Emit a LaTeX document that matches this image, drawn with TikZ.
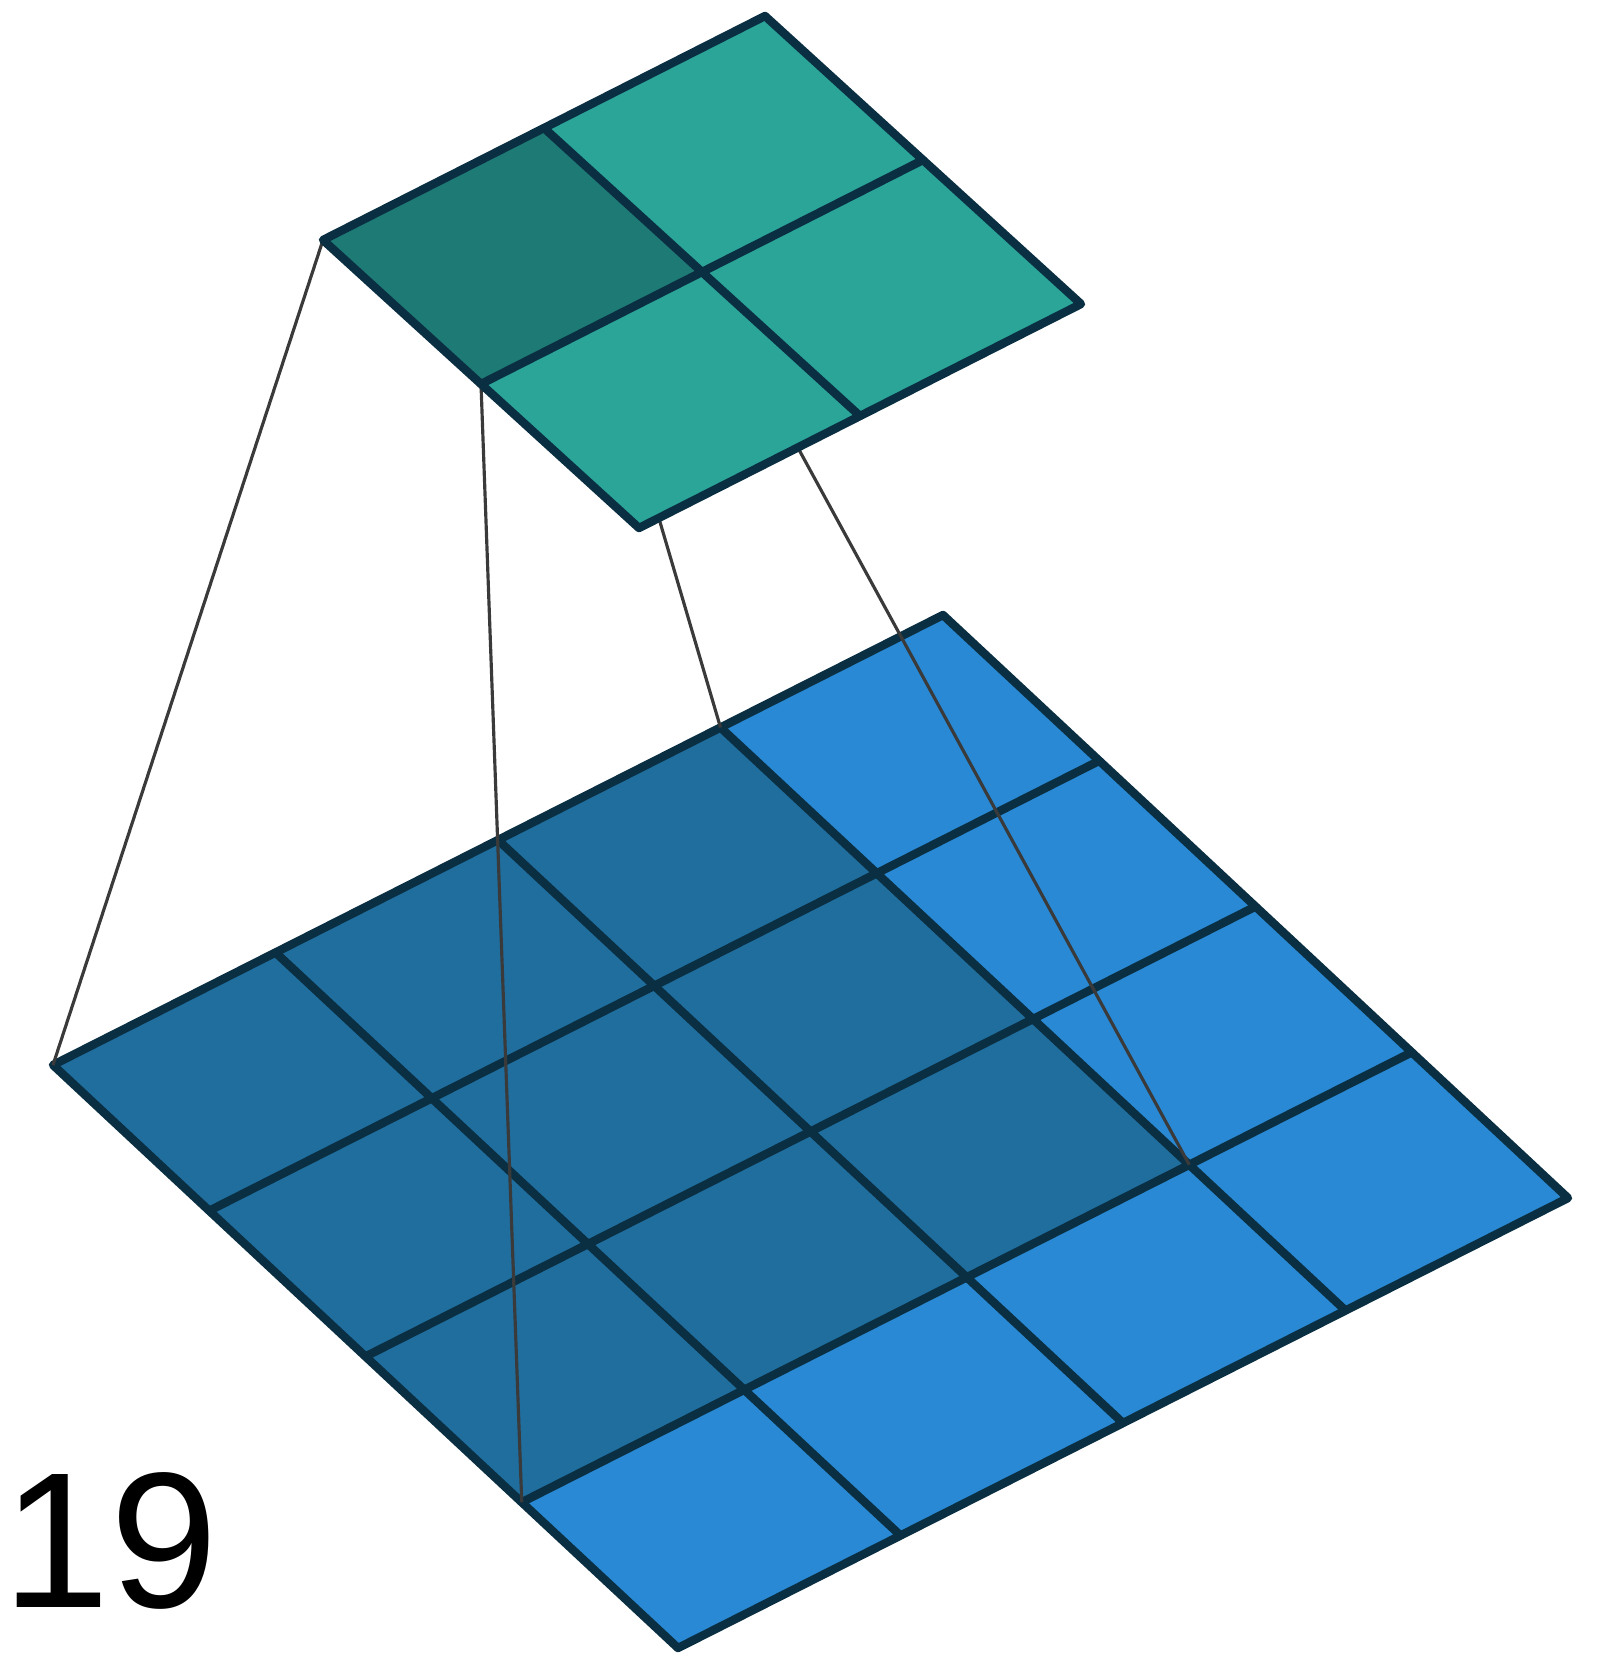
\documentclass[tikz,border=0pt]{standalone}
\usepackage{fontspec}
\setsansfont{Liberation Sans}
\usepackage{tikz}
\usetikzlibrary{calc}

\definecolor{inDark}{HTML}{1F6E9E}
\definecolor{inLight}{HTML}{2989D4}
\definecolor{outDark}{HTML}{1E7A74}
\definecolor{outLight}{HTML}{2AA598}
\definecolor{gridLine}{HTML}{0B2F42}
\definecolor{linkLine}{HTML}{3A3A3A}

\begin{document}
\begin{tikzpicture}[
        gridline/.style = {draw=gridLine, line width=2.4pt, line cap=round},
        rim/.style      = {draw=gridLine, line width=2.4pt, line join=round},
        link/.style     = {draw=linkLine, line width=0.9pt},
        tag/.style      = {font=\sffamily\fontsize{55}{60}\selectfont, inner sep=0pt, anchor=base west}
    ]
    \useasboundingbox (0,0) rectangle (16,-16.54);

    % --- INPUT GRID (4x4) ---
    \coordinate (inO) at (0.53,-10.65);
    \coordinate (inU) at (2.225,1.125);
    \coordinate (inV) at (1.5625,-1.4575);

    \fill[inLight] (inO) -- ($(inO)+4*(inU)$) -- ($(inO)+4*(inU)+4*(inV)$) -- ($(inO)+4*(inV)$) -- cycle;

    % receptive field corners
    \coordinate (rfA) at (inO);
    \coordinate (rfB) at ($(inO)+3*(inU)$);
    \coordinate (rfC) at ($(inO)+3*(inU)+3*(inV)$);
    \coordinate (rfD) at ($(inO)+3*(inV)$);
    \fill[inDark] (rfA) -- (rfB) -- (rfC) -- (rfD) -- cycle;

    \foreach \k in {1,2,3} {
        \draw[gridline] ($(inO)+\k*(inV)$) -- ($(inO)+\k*(inV)+4*(inU)$);
        \draw[gridline] ($(inO)+\k*(inU)$) -- ($(inO)+\k*(inU)+4*(inV)$);
    }
    \draw[rim] (inO) -- ($(inO)+4*(inU)$) -- ($(inO)+4*(inU)+4*(inV)$) -- ($(inO)+4*(inV)$) -- cycle;

    % --- OUTPUT GRID (2x2) ---
    \coordinate (outO) at (3.23,-2.40);
    \coordinate (outU) at (2.21,1.12);
    \coordinate (outV) at (1.58,-1.44);

    % kernel cell corners
    \coordinate (kA) at (outO);
    \coordinate (kB) at ($(outO)+(outU)$);
    \coordinate (kC) at ($(outO)+(outU)+(outV)$);
    \coordinate (kD) at ($(outO)+(outV)$);

    % --- LINKS ---
    \draw[link] (kA) -- (rfA);
    \draw[link] (kB) -- (rfB);
    \draw[link] (kC) -- (rfC);
    \draw[link] (kD) -- (rfD);

    \fill[outLight] (outO) -- ($(outO)+2*(outU)$) -- ($(outO)+2*(outU)+2*(outV)$) -- ($(outO)+2*(outV)$) -- cycle;
    \fill[outDark] (kA) -- (kB) -- (kC) -- (kD) -- cycle;
    \draw[gridline] ($(outO)+(outV)$) -- ($(outO)+(outV)+2*(outU)$);
    \draw[gridline] ($(outO)+(outU)$) -- ($(outO)+(outU)+2*(outV)$);
    \draw[rim] (outO) -- ($(outO)+2*(outU)$) -- ($(outO)+2*(outU)+2*(outV)$) -- ($(outO)+2*(outV)$) -- cycle;

    % --- STEP NUMBER ---
    \node[tag] (stepnum) at (0.02,-16.07) {19};

\end{tikzpicture}
\end{document}
